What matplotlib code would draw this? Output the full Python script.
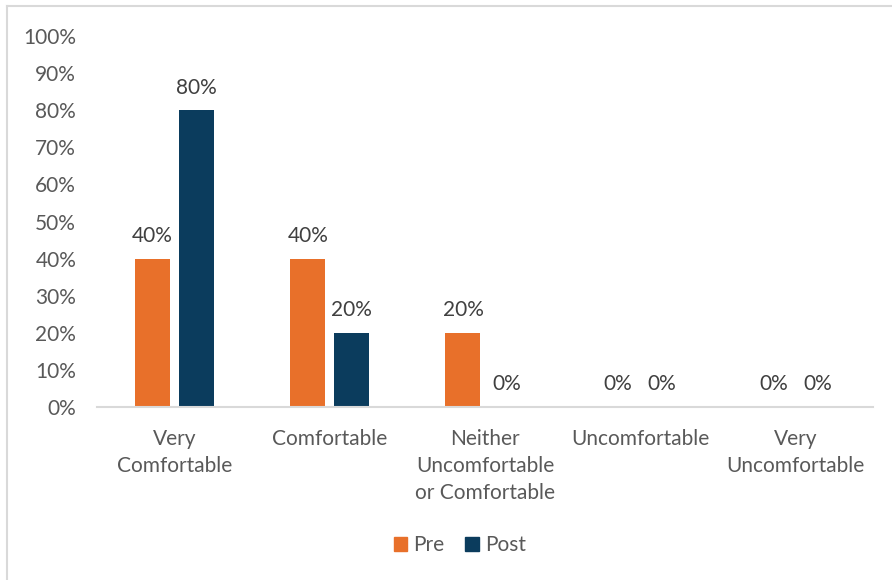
import matplotlib
matplotlib.use("Agg")
import matplotlib.pyplot as plt
from matplotlib.lines import Line2D
from matplotlib.patches import Patch
import numpy as np

categories = ["Very\nComfortable", "Comfortable", "Neither\nUncomfortable\nor Comfortable",
              "Uncomfortable", "Very\nUncomfortable"]
pre = [0.40, 0.40, 0.20, 0.00, 0.00]
post = [0.80, 0.20, 0.00, 0.00, 0.00]
yticks = [0.0, 0.1, 0.2, 0.3, 0.4, 0.5, 0.6, 0.7, 0.8, 0.9, 1.0]

PRE_COLOR = "#E8702A"
POST_COLOR = "#0B3C5D"
TEXT_COLOR = "#595959"
FS = 15

plt.rcParams["font.family"] = ["Lato", "DejaVu Sans"]

fig = plt.figure(figsize=(8.92, 5.8), dpi=100)
ax = fig.add_axes([97 / 892, 1 - 407 / 580, 776 / 892, 371 / 580])

x = np.arange(len(categories))
width = 0.226
offset = 0.142
bars_pre = ax.bar(x - offset, pre, width, color=PRE_COLOR, label="Pre")
bars_post = ax.bar(x + offset, post, width, color=POST_COLOR, label="Post")

for bars, vals in ((bars_pre, pre), (bars_post, post)):
    for b, v in zip(bars, vals):
        ax.annotate(f"{v:.0%}", (b.get_x() + b.get_width() / 2, v),
                    xytext=(0, 9), textcoords="offset points",
                    ha="center", va="bottom", fontsize=FS, color="#404040")

ax.set_xlim(-0.5, len(categories) - 0.5)
ax.set_ylim(0, 1.0)
ax.set_yticks(yticks)
ax.set_yticklabels([f"{t:.0%}" for t in yticks])
ax.set_xticks(x)
ax.set_xticklabels(categories, linespacing=1.42)
ax.tick_params(axis="y", length=0, pad=15, labelsize=FS, labelcolor=TEXT_COLOR)
ax.tick_params(axis="x", length=0, pad=16, labelsize=FS, labelcolor=TEXT_COLOR)
for side in ("left", "right", "top"):
    ax.spines[side].set_visible(False)
ax.spines["bottom"].set_color("#D9D9D9")
ax.spines["bottom"].set_linewidth(1.5)

handles = [Patch(color=PRE_COLOR, label="Pre"), Patch(color=POST_COLOR, label="Post")]
fig.legend(handles=handles, loc="center", bbox_to_anchor=(460 / 892, 1 - 545 / 580),
           ncol=2, frameon=False, fontsize=FS, labelcolor=TEXT_COLOR,
           handlelength=0.65, handleheight=0.65, handletextpad=0.3, columnspacing=1.0)

# chart frame
fig.add_artist(Line2D([6.5 / 892, 6.5 / 892], [0, 1 - 6 / 580], transform=fig.transFigure,
                      color="#D9D9D9", linewidth=1.5))
fig.add_artist(Line2D([6.5 / 892, 1], [1 - 6 / 580, 1 - 6 / 580], transform=fig.transFigure,
                      color="#D9D9D9", linewidth=1.5))

fig.savefig("out.png", dpi=100)
